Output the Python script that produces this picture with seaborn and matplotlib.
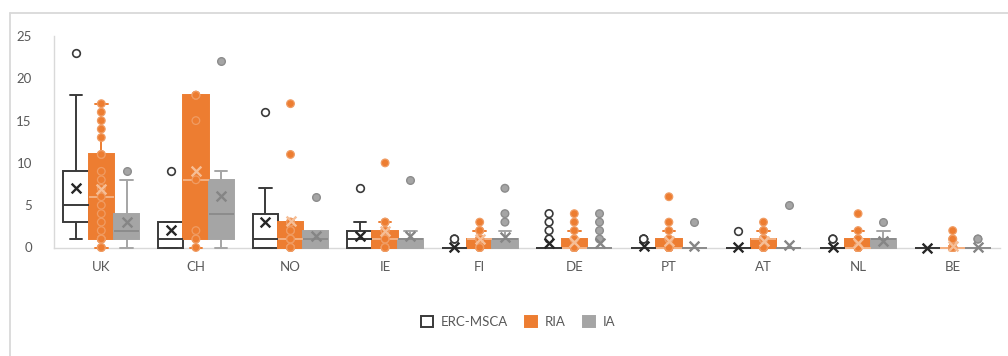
import numpy as np
import pandas as pd
import matplotlib
matplotlib.use("Agg")
import matplotlib.pyplot as plt
from matplotlib.lines import Line2D
from matplotlib.patches import Patch
import seaborn as sns

# ---- data -----------------------------------------------------------------
countries = ["UK", "CH", "NO", "IE", "FI", "DE", "PT", "AT", "NL", "BE"]
types = ["ERC-MSCA", "RIA", "IA"]

# observations per country (same order as `countries`)
erc_msca = [
    [1, 2, 2, 3, 3, 4, 5, 5, 7, 9, 9, 18, 23],
    [0, 0, 0, 0, 1, 1, 1, 3, 3, 3, 3, 3, 9],
    [0, 0, 0, 0, 1, 1, 1, 2, 3, 4, 4, 7, 16],
    [0, 0, 0, 0, 0, 1, 1, 1, 1, 2, 2, 3, 7],
    [0, 0, 0, 0, 0, 0, 0, 0, 0, 0, 0, 0, 0, 0, 0, 1, 1],
    [0, 0, 0, 0, 0, 0, 0, 0, 0, 0, 0, 0, 0, 1, 2, 3, 4],
    [0, 0, 0, 0, 0, 0, 0, 0, 0, 0, 0, 0, 0, 0, 1, 1, 1],
    [0, 0, 0, 0, 0, 0, 0, 0, 0, 0, 0, 0, 0, 0, 0, 0, 2],
    [0, 0, 0, 0, 0, 0, 0, 0, 0, 0, 0, 0, 0, 0, 0, 1, 1],
    [0, 0, 0, 0, 0, 0, 0, 0, 0, 0, 0, 0, 0, 0, 0, 0, 0],
]
ria = [
    [0, 0, 1, 1, 1, 1, 2, 3, 4, 5, 6, 7, 8, 9, 11, 11, 13, 14, 15, 16, 17],
    [0, 1, 1, 2, 8, 15, 18, 18, 18],
    [0, 0, 0, 0, 1, 1, 1, 2, 2, 3, 3, 11, 17],
    [0, 0, 0, 0, 1, 1, 1, 2, 2, 2, 3, 3, 10],
    [0, 0, 0, 0, 1, 1, 1, 1, 1, 1, 2, 2, 3],
    [0, 0, 0, 0, 0, 0, 0, 0, 0, 0, 0, 0, 1, 1, 2, 3, 4],
    [0, 0, 0, 0, 0, 0, 0, 0, 0, 0, 0, 0, 1, 1, 2, 3, 6],
    [0, 0, 0, 0, 0, 0, 0, 0, 1, 1, 1, 1, 1, 1, 2, 2, 3],
    [0, 0, 0, 0, 0, 0, 0, 0, 0, 0, 0, 0, 1, 1, 1, 2, 4],
    [0, 0, 0, 0, 0, 0, 0, 0, 0, 0, 0, 0, 0, 0, 1, 1, 2],
]
ia = [
    [0, 0, 1, 1, 1, 2, 2, 3, 3, 4, 5, 8, 9],
    [0, 1, 1, 1, 4, 4, 4, 8, 8, 8, 9, 9, 22],
    [0, 0, 0, 0, 1, 1, 1, 1, 2, 2, 2, 2, 6],
    [0, 0, 0, 0, 1, 1, 1, 1, 1, 1, 1, 2, 8],
    [0, 0, 0, 0, 0, 0, 0, 1, 1, 1, 1, 1, 1, 2, 3, 4, 7],
    [0, 0, 0, 0, 0, 0, 0, 0, 0, 0, 0, 0, 0, 1, 2, 3, 4],
    [0, 0, 0, 0, 0, 0, 0, 0, 0, 0, 0, 0, 0, 0, 0, 0, 3],
    [0, 0, 0, 0, 0, 0, 0, 0, 0, 0, 0, 0, 0, 0, 0, 0, 5],
    [0, 0, 0, 0, 0, 0, 0, 0, 1, 1, 1, 1, 1, 1, 2, 2, 3],
    [0, 0, 0, 0, 0, 0, 0, 0, 0, 0, 0, 0, 0, 0, 0, 1, 1],
]
y_ticks = [0, 5, 10, 15, 20, 25]

# ---- long table -------------------------------------------------------------
rows = []
for t, series in zip(types, [erc_msca, ria, ia]):
    for c, vals in zip(countries, series):
        for v in vals:
            rows.append((c, t, v))
df = pd.DataFrame(rows, columns=["country", "type", "value"])


def outliers(g):
    q1, q3 = np.percentile(g["value"], [25, 75])
    iqr = q3 - q1
    return g[(g["value"] < q1 - 1.5 * iqr) | (g["value"] > q3 + 1.5 * iqr)]


# RIA shows every observation, the other two only the outliers
pts = pd.concat(
    [df[df["type"] == "RIA"]]
    + [outliers(g) for (c, t), g in df[df["type"] != "RIA"].groupby(["country", "type"])]
)
means = df.groupby(["country", "type"], as_index=False)["value"].mean()

# ---- styling ---------------------------------------------------------------
ORANGE = "#ED7D31"
GRAY = "#A5A5A5"
DARK = "#3A3A3A"
TEXT = "#595959"
AXIS = "#D9D9D9"

fills = {"ERC-MSCA": "white", "RIA": ORANGE, "IA": GRAY}
edges = {"ERC-MSCA": DARK, "RIA": ORANGE, "IA": GRAY}
median_c = {"ERC-MSCA": DARK, "RIA": "#F4B183", "IA": "#8C8C8C"}
mean_c = {"ERC-MSCA": "#262626", "RIA": "#F6BE96", "IA": "#858585"}
point_face = {"ERC-MSCA": "white", "RIA": ORANGE, "IA": GRAY}
point_edge = {"ERC-MSCA": DARK, "RIA": "#F09C63", "IA": "#8C8C8C"}
point_lw = {"ERC-MSCA": 1.2, "RIA": 0.9, "IA": 1.0}

sns.set_theme(style="white")
plt.rcParams["font.family"] = ["Lato", "DejaVu Sans"]

W, H = 1008, 356
Y_TOP, Y_ZERO, PX_PER_UNIT = 36.0, 247.5, 8.46
Y_MIN = -0.8
y_bottom_px = Y_ZERO - Y_MIN * PX_PER_UNIT

fig = plt.figure(figsize=(W / 100, H / 100), dpi=100)
ax = fig.add_axes([54 / W, 1 - y_bottom_px / H, 946 / W, (y_bottom_px - Y_TOP) / H])

common = dict(x="country", y="value", hue="type", order=countries,
              hue_order=types, dodge=True, legend=False, ax=ax)

for t in types:
    sub = df[df["type"] == t]
    sns.boxplot(data=sub, palette=fills, saturation=1, linecolor=edges[t],
                linewidth=1.4, width=0.8, gap=0, showfliers=False,
                medianprops={"color": median_c[t], "linewidth": 1.4},
                **common)

for t in types:
    sub = pts[pts["type"] == t]
    sns.stripplot(data=sub, palette=point_face, jitter=False, size=5.5,
                  edgecolor=point_edge[t], linewidth=point_lw[t], zorder=4,
                  **common)

sns.stripplot(data=means, palette=mean_c, jitter=False, marker="x",
              size=7, linewidth=1.7, zorder=5, **common)

# ---- axes ------------------------------------------------------------------
ax.set_xlim(-0.5, len(countries) - 0.5)
ax.set_ylim(Y_MIN, 25)
ax.set_yticks(y_ticks)
ax.set_xlabel("")
ax.set_ylabel("")
ax.tick_params(axis="y", length=0, pad=16, labelsize=9.5, labelcolor=TEXT)
ax.tick_params(axis="x", length=0, pad=10, labelsize=9.5, labelcolor=TEXT)
for side in ["top", "right"]:
    ax.spines[side].set_visible(False)
ax.spines["bottom"].set_position(("data", 0))
ax.spines["left"].set_bounds(0, 25)
for side in ["left", "bottom"]:
    ax.spines[side].set_color(AXIS)
    ax.spines[side].set_linewidth(1.0)
    ax.spines[side].set_zorder(0)

# ---- legend ----------------------------------------------------------------
handles = [Patch(facecolor=fills[t], edgecolor=edges[t], linewidth=1.4, label=t)
           for t in types]
fig.legend(handles=handles, loc="center", bbox_to_anchor=(518 / W, 1 - 322 / H),
           ncol=3, frameon=False, handlelength=0.9, handleheight=0.9,
           handletextpad=0.6, columnspacing=1.3, fontsize=9.5, labelcolor=TEXT)

# chart-area frame
fig.add_artist(Line2D([10 / W, 10 / W], [0, 1 - 13 / H], color=AXIS, lw=1.3,
                      transform=fig.transFigure))
fig.add_artist(Line2D([10 / W, 1], [1 - 13 / H, 1 - 13 / H], color=AXIS, lw=1.3,
                      transform=fig.transFigure))

fig.savefig("out.png", dpi=100)
